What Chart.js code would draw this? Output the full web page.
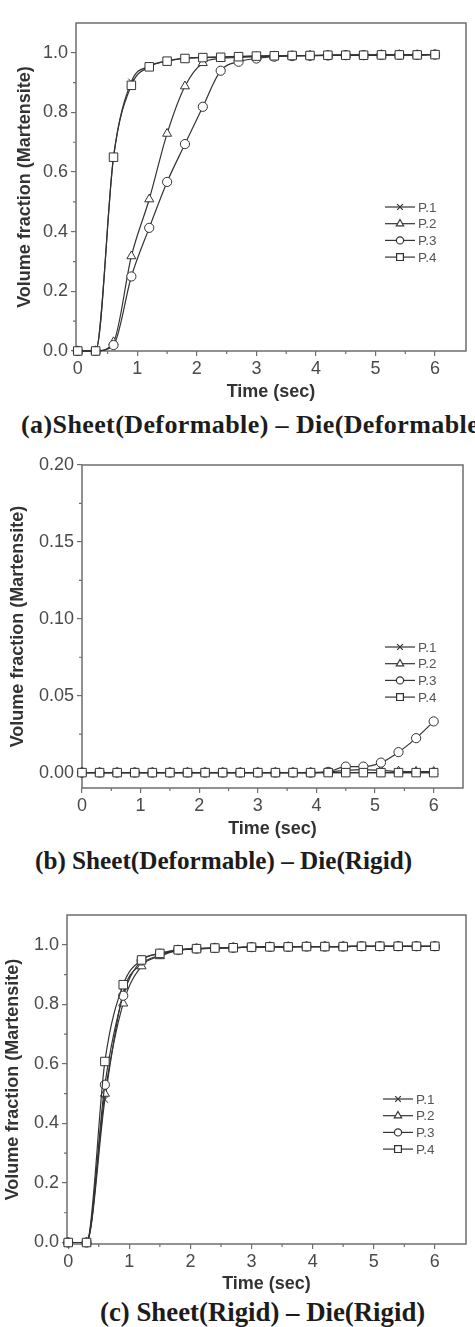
<!DOCTYPE html>
<html>
<head>
<meta charset="utf-8">
<script src="https://cdn.jsdelivr.net/npm/chart.js@4.4.1/dist/chart.umd.min.js"></script>
<style>
  html, body { margin: 0; padding: 0; background: #fff; }
  body { width: 475px; height: 1327px; position: relative; overflow: hidden; }
  .box { position: absolute; left: 0; width: 475px; height: 405px; }
  .cap {
    position: absolute; white-space: nowrap; line-height: 1;
    font-family: "Liberation Serif", "Times New Roman", serif;
    font-weight: bold; color: #1c1c1c;
  }
</style>
</head>
<body>
<div class="box" style="top:0"><canvas id="chartA"></canvas></div>
<div class="cap" style="left:21px;top:412px;font-size:26px;letter-spacing:0.4px">(a)Sheet(Deformable) – Die(Deformable)</div>
<div class="box" style="top:440px"><canvas id="chartB"></canvas></div>
<div class="cap" style="left:35px;top:848px;font-size:25.2px">(b) Sheet(Deformable) – Die(Rigid)</div>
<div class="box" style="top:890px"><canvas id="chartC"></canvas></div>
<div class="cap" style="left:100px;top:1299px;font-size:26.8px">(c) Sheet(Rigid) – Die(Rigid)</div>

<script>
// time steps (sec)
const timeSec = [0, 0.3, 0.6, 0.9, 1.2, 1.5, 1.8, 2.1, 2.4, 2.7, 3.0, 3.3, 3.6, 3.9, 4.2, 4.5, 4.8, 5.1, 5.4, 5.7, 6.0];
const seriesNames = ["P.1", "P.2", "P.3", "P.4"];
const markerStyles = ["crossRot", "triangle", "circle", "rect"];

// (a) Sheet(Deformable) - Die(Deformable)
const a_p1 = [0, 0, 0.65, 0.903, 0.955, 0.973, 0.982, 0.985, 0.986, 0.988, 0.989, 0.990, 0.991, 0.991, 0.992, 0.992, 0.992, 0.993, 0.993, 0.993, 0.994];
const a_p2 = [0, 0, 0.03, 0.318, 0.509, 0.729, 0.888, 0.966, 0.981, 0.984, 0.987, 0.989, 0.990, 0.991, 0.991, 0.992, 0.992, 0.993, 0.993, 0.993, 0.994];
const a_p3 = [0, 0, 0.02, 0.25, 0.413, 0.567, 0.694, 0.819, 0.94, 0.97, 0.981, 0.987, 0.989, 0.990, 0.991, 0.992, 0.992, 0.993, 0.993, 0.993, 0.994];
const a_p4 = [0, 0, 0.65, 0.891, 0.953, 0.972, 0.981, 0.984, 0.985, 0.987, 0.989, 0.990, 0.991, 0.991, 0.992, 0.992, 0.992, 0.993, 0.993, 0.993, 0.994];

// (b) Sheet(Deformable) - Die(Rigid)
const b_p1 = [0, 0, 0, 0, 0, 0, 0, 0, 0, 0, 0, 0, 0, 0, 0, 0, 0, 0, 0, 0, 0];
const b_p2 = [0, 0, 0, 0, 0, 0, 0, 0, 0, 0, 0, 0, 0, 0, 0.0003, 0.0015, 0.002, 0.0015, 0.0008, 0.0006, 0.0006];
const b_p3 = [0, 0, 0, 0, 0, 0, 0, 0, 0, 0, 0, 0, 0, 0, 0.0005, 0.0039, 0.0039, 0.0065, 0.0133, 0.0224, 0.0333];
const b_p4 = [0, 0, 0, 0, 0, 0, 0, 0, 0, 0, 0, 0, 0, 0, 0, 0, 0, 0, 0, 0, 0];

// (c) Sheet(Rigid) - Die(Rigid)
const c_p1 = [0, 0, 0.48, 0.84, 0.935, 0.965, 0.982, 0.987, 0.989, 0.990, 0.992, 0.993, 0.993, 0.994, 0.994, 0.994, 0.995, 0.995, 0.995, 0.995, 0.995];
const c_p2 = [0, 0, 0.50, 0.803, 0.928, 0.962, 0.981, 0.986, 0.989, 0.990, 0.992, 0.993, 0.993, 0.994, 0.994, 0.994, 0.995, 0.995, 0.995, 0.995, 0.995];
const c_p3 = [0, 0, 0.53, 0.829, 0.947, 0.970, 0.983, 0.987, 0.989, 0.990, 0.992, 0.993, 0.993, 0.994, 0.994, 0.994, 0.995, 0.995, 0.995, 0.995, 0.995];
const c_p4 = [0, 0, 0.608, 0.866, 0.949, 0.971, 0.983, 0.987, 0.989, 0.990, 0.992, 0.993, 0.993, 0.994, 0.994, 0.994, 0.995, 0.995, 0.995, 0.995, 0.995];

// ticks
const xTicks = [0, 1, 2, 3, 4, 5, 6];
const xTickLabels = ["0", "1", "2", "3", "4", "5", "6"];
const xMinor = [0.5, 1.5, 2.5, 3.5, 4.5, 5.5];
const yTicksFrac = [0, 0.2, 0.4, 0.6, 0.8, 1.0];
const yLabelsFrac = ["0.0", "0.2", "0.4", "0.6", "0.8", "1.0"];
const yMinorFrac = [0.1, 0.3, 0.5, 0.7, 0.9];
const yTicksSmall = [0, 0.05, 0.10, 0.15, 0.20];
const yLabelsSmall = ["0.00", "0.05", "0.10", "0.15", "0.20"];
const yMinorSmall = [0.025, 0.075, 0.125, 0.175];

const INK = "#333333";
const AXIS = "#6e6e6e";
const sans = '"Liberation Sans", Arial, sans-serif';

// marker sizes per style (plot / legend)
const markerSize = { crossRot: 4.5, triangle: 5.2, circle: 4.6, rect: 6 };
const legendSize = { crossRot: 4, triangle: 4.2, circle: 3.6, rect: 4.8 };

// frame box + short minor ticks
const framePlugin = {
  id: "frame",
  beforeDatasetsDraw(chart, args, opts) {
    const { ctx, chartArea: a } = chart;
    const xs = chart.scales.x, ys = chart.scales.y;
    ctx.save();
    ctx.strokeStyle = AXIS;
    ctx.lineWidth = 1.5;
    ctx.strokeRect(a.left, a.top, a.right - a.left, a.bottom - a.top);
    ctx.lineWidth = 1.2;
    ctx.beginPath();
    opts.xMinor.forEach(v => {
      const px = xs.getPixelForValue(v);
      ctx.moveTo(px, a.bottom);
      ctx.lineTo(px, a.bottom + 3);
    });
    opts.yMinor.forEach(v => {
      const py = ys.getPixelForValue(v);
      ctx.moveTo(a.left, py);
      ctx.lineTo(a.left - 3, py);
    });
    ctx.stroke();
    ctx.restore();
  }
};

// legend drawn inside the plot like the original
const innerLegend = {
  id: "innerLegend",
  afterDatasetsDraw(chart, args, opts) {
    const ctx = chart.ctx;
    ctx.save();
    ctx.font = "13.5px " + sans;
    ctx.textBaseline = "middle";
    chart.data.datasets.forEach((ds, i) => {
      const y = opts.top + i * opts.gap;
      ctx.strokeStyle = ds.borderColor;
      ctx.lineWidth = 1.2;
      ctx.beginPath();
      ctx.moveTo(opts.left, y);
      ctx.lineTo(opts.left + 30, y);
      ctx.stroke();
      ctx.fillStyle = "#fff";
      Chart.helpers.drawPoint(ctx, { pointStyle: ds.pointStyle, radius: legendSize[ds.pointStyle], borderWidth: 1, rotation: 0 }, opts.left + 15, y);
      ctx.fillStyle = "#555";
      ctx.fillText(ds.label, opts.left + 33, y + 1);
    });
    ctx.restore();
  }
};

function makeChart(id, series, cfg) {
  const datasets = series.map((vals, i) => ({
    label: seriesNames[i],
    data: vals.map((v, k) => ({ x: timeSec[k], y: v })),
    borderColor: INK,
    borderWidth: 1.2,
    backgroundColor: "#fff",
    pointBackgroundColor: "#fff",
    pointBorderColor: INK,
    pointBorderWidth: 1,
    pointStyle: markerStyles[i],
    pointRadius: markerSize[markerStyles[i]],
    cubicInterpolationMode: "monotone",
    clip: false,
    order: 4 - i
  }));

  return new Chart(document.getElementById(id), {
    type: "line",
    data: { datasets },
    plugins: [framePlugin, innerLegend],
    options: {
      responsive: true,
      maintainAspectRatio: false,
      animation: false,
      layout: { padding: { left: 0, top: cfg.top, right: cfg.right, bottom: 0 } },
      plugins: {
        legend: { display: false },
        tooltip: { enabled: false },
        frame: { xMinor: xMinor, yMinor: cfg.yMinor },
        innerLegend: cfg.legend
      },
      scales: {
        x: {
          type: "linear",
          min: cfg.xMin,
          max: cfg.xMax,
          afterBuildTicks: s => { s.ticks = xTicks.map(v => ({ value: v })); },
          afterFit: s => { s.height = cfg.xHeight; },
          ticks: {
            callback: (v, i) => xTickLabels[i],
            color: "#4a4a4a",
            font: { family: sans, size: 18 },
            padding: 2,
            maxRotation: 0
          },
          grid: { display: true, drawOnChartArea: false, tickLength: 5, color: AXIS, lineWidth: 1.2 },
          border: { display: false },
          title: {
            display: true,
            text: "Time (sec)",
            color: "#333",
            font: { family: sans, size: 18, weight: "bold" },
            padding: { top: 0, bottom: cfg.xTitlePad }
          }
        },
        y: {
          type: "linear",
          min: cfg.yMin,
          max: cfg.yMax,
          afterBuildTicks: s => { s.ticks = cfg.yTicks.map(v => ({ value: v })); },
          afterFit: s => { s.width = cfg.yWidth; },
          ticks: {
            callback: (v, i) => cfg.yLabels[i],
            color: "#4a4a4a",
            font: { family: sans, size: 18 },
            padding: 3
          },
          grid: { display: true, drawOnChartArea: false, tickLength: 5, color: AXIS, lineWidth: 1.2 },
          border: { display: false },
          title: {
            display: true,
            text: "Volume fraction (Martensite)",
            color: "#333",
            font: { family: sans, size: 18, weight: "bold" },
            padding: { top: cfg.yTitlePad, bottom: 0 }
          }
        }
      }
    }
  });
}

makeChart("chartA", [a_p1, a_p2, a_p3, a_p4], {
  top: 23, right: 9, xHeight: 54, yWidth: 76, xTitlePad: 2, yTitlePad: 14,
  xMin: -0.03, xMax: 6.52, yMin: 0, yMax: 1.1,
  yTicks: yTicksFrac, yLabels: yLabelsFrac, yMinor: yMinorFrac,
  legend: { left: 385, top: 207, gap: 16.7 }
});

makeChart("chartB", [b_p1, b_p2, b_p3, b_p4], {
  top: 25, right: 12, xHeight: 57, yWidth: 82, xTitlePad: 5, yTitlePad: 7,
  xMin: 0, xMax: 6.5, yMin: -0.01, yMax: 0.2,
  yTicks: yTicksSmall, yLabels: yLabelsSmall, yMinor: yMinorSmall,
  legend: { left: 385, top: 207, gap: 16.7 }
});

makeChart("chartC", [c_p1, c_p2, c_p3, c_p4], {
  top: 25, right: 9, xHeight: 51, yWidth: 67, xTitlePad: 0, yTitlePad: 2,
  xMin: -0.02, xMax: 6.51, yMin: -0.005, yMax: 1.1,
  yTicks: yTicksFrac, yLabels: yLabelsFrac, yMinor: yMinorFrac,
  legend: { left: 383, top: 209, gap: 16.7 }
});
</script>
</body>
</html>
